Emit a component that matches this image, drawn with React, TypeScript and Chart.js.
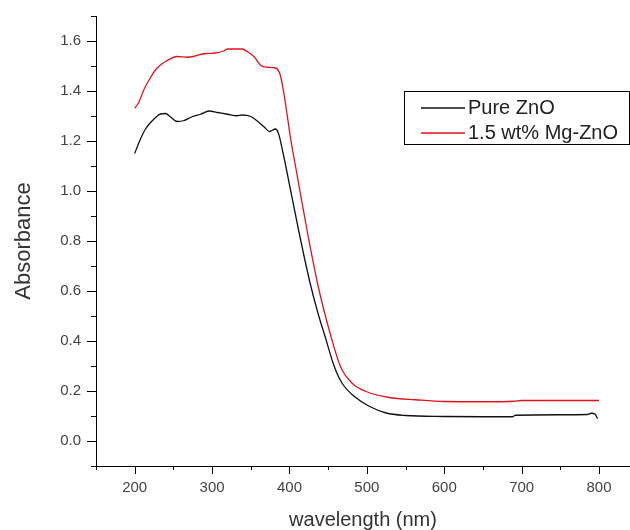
import React, { useEffect, useRef } from 'react';
import { Chart, registerables } from 'chart.js';

Chart.register(...registerables);

// ---- data ----
const pureWavelength = [
  200, 205, 210, 214, 220, 225, 233, 240, 246, 255, 263, 274, 285, 296, 307, 320, 332, 339, 350, 358,
  367, 374, 382, 386, 391, 395, 412, 426, 436, 446, 458, 468, 484, 503, 525, 550, 600, 650, 688, 692,
  750, 785, 790, 795, 798,
];
const pureAbsorbance = [
  1.15, 1.19, 1.225, 1.248, 1.272, 1.288, 1.308, 1.31, 1.297, 1.278, 1.281, 1.297, 1.307, 1.32, 1.314,
  1.307, 1.301, 1.304, 1.298, 1.281, 1.257, 1.238, 1.248, 1.228, 1.162, 1.103, 0.84, 0.64, 0.52, 0.418,
  0.297, 0.231, 0.178, 0.139, 0.112, 0.102, 0.098, 0.097, 0.097, 0.103, 0.105, 0.106, 0.111, 0.107, 0.089,
];

const mgWavelength = [
  200, 205, 212, 220, 229, 240, 255, 268, 276, 289, 302, 315, 320, 339, 345, 354, 363, 371, 382, 388,
  393, 402, 408, 423, 437, 453, 466, 481, 499, 529, 563, 600, 650, 690, 700, 750, 800,
];
const mgAbsorbance = [
  1.331, 1.353, 1.406, 1.452, 1.492, 1.518, 1.538, 1.535, 1.538, 1.549, 1.551, 1.56, 1.568, 1.568, 1.558,
  1.538, 1.502, 1.495, 1.492, 1.465, 1.386, 1.2, 1.096, 0.838, 0.62, 0.425, 0.297, 0.231, 0.198, 0.174,
  0.165, 0.158, 0.157, 0.159, 0.162, 0.162, 0.162,
];

const seriesNames = ['Pure ZnO', '1.5 wt% Mg-ZnO'];
const seriesColors = ['#111111', '#e3121c'];
const xTitle = 'wavelength (nm)';
const yTitle = 'Absorbance';
const xRange = [150, 840];
const yRange = [-0.1, 1.7];
const xTickValues = [150, 200, 250, 300, 350, 400, 450, 500, 550, 600, 650, 700, 750, 800];
const yTickValues = [-0.1, 0, 0.1, 0.2, 0.3, 0.4, 0.5, 0.6, 0.7, 0.8, 0.9, 1.0, 1.1, 1.2, 1.3, 1.4, 1.5, 1.6, 1.7];

const FONT = "'Liberation Sans', Arial, sans-serif";

const originTicks = {
  id: 'originTicks',
  afterDraw(chart: any) {
    const { ctx, chartArea } = chart;
    const xs = chart.scales.x;
    const ys = chart.scales.y;
    ctx.save();
    ctx.strokeStyle = '#000';
    ctx.lineWidth = 1;
    ctx.beginPath();
    xs.ticks.forEach((t: any) => {
      const v = t.value;
      const major = Math.round(v) % 100 === 0;
      const px = Math.round(xs.getPixelForValue(v)) + 0.5;
      const y0 = Math.round(chartArea.bottom);
      ctx.moveTo(px, y0);
      ctx.lineTo(px, y0 + (major ? 8 : 4));
    });
    ys.ticks.forEach((t: any) => {
      const v = t.value;
      const major = Math.round(v * 10) % 2 === 0;
      const py = Math.round(ys.getPixelForValue(v)) + 0.5;
      const x0 = Math.round(chartArea.left);
      ctx.moveTo(x0, py);
      ctx.lineTo(x0 - (major ? 9 : 5), py);
    });
    ctx.stroke();
    ctx.restore();
  },
};

const boxLegend = {
  id: 'boxLegend',
  afterDraw(chart: any) {
    const { ctx } = chart;
    const left = 404.5;
    const top = 91.5;
    const right = chart.width - 0.5;
    const bottom = 144.5;
    ctx.save();
    ctx.strokeStyle = '#000';
    ctx.lineWidth = 1;
    ctx.strokeRect(left, top, right - left, bottom - top);
    const rows = [108, 133];
    seriesNames.forEach((name, i) => {
      ctx.strokeStyle = seriesColors[i];
      ctx.lineWidth = 1.3;
      ctx.beginPath();
      ctx.moveTo(421, rows[i]);
      ctx.lineTo(465, rows[i]);
      ctx.stroke();
      ctx.fillStyle = '#222';
      ctx.font = `20px ${FONT}`;
      ctx.textBaseline = 'middle';
      ctx.textAlign = 'left';
      ctx.fillText(name, 468, rows[i]);
    });
    ctx.restore();
  },
};

export default function App() {
  const canvasRef = useRef<HTMLCanvasElement | null>(null);

  useEffect(() => {
    if (!canvasRef.current) return;
    const chart = new Chart(canvasRef.current, {
      type: 'line',
      data: {
        datasets: [
          {
            label: seriesNames[0],
            data: pureWavelength.map((x, i) => ({ x, y: pureAbsorbance[i] })),
            borderColor: seriesColors[0],
            borderWidth: 1.3,
            pointRadius: 0,
            cubicInterpolationMode: 'monotone',
            fill: false,
          },
          {
            label: seriesNames[1],
            data: mgWavelength.map((x, i) => ({ x, y: mgAbsorbance[i] })),
            borderColor: seriesColors[1],
            borderWidth: 1.3,
            pointRadius: 0,
            cubicInterpolationMode: 'monotone',
            fill: false,
          },
        ],
      },
      options: {
        animation: false,
        responsive: false,
        maintainAspectRatio: false,
        layout: { padding: { top: 13, left: 0, right: 0, bottom: 0 } },
        plugins: { legend: { display: false }, tooltip: { enabled: false } },
        scales: {
          x: {
            type: 'linear',
            min: xRange[0],
            max: xRange[1],
            afterBuildTicks(scale: any) {
              scale.ticks = xTickValues.map((value) => ({ value }));
            },
            afterFit(scale: any) {
              scale.height = 64;
            },
            grid: { drawOnChartArea: false, color: 'transparent', tickLength: 8 },
            border: { display: true, color: '#000', width: 1 },
            ticks: {
              padding: 5,
              maxRotation: 0,
              autoSkip: false,
              color: '#444',
              font: { family: FONT, size: 15 },
              callback: (v: any) => {
                const n = Number(v);
                return Math.round(n) % 100 === 0 && n >= 200 && n <= 800 ? String(Math.round(n)) : '';
              },
            },
            title: {
              display: true,
              text: xTitle,
              color: '#333',
              font: { family: FONT, size: 20, lineHeight: 1 },
              padding: { top: 0, bottom: 0 },
            },
          },
          y: {
            type: 'linear',
            min: yRange[0],
            max: yRange[1],
            afterBuildTicks(scale: any) {
              scale.ticks = yTickValues.map((value) => ({ value }));
            },
            afterFit(scale: any) {
              scale.width = 96;
            },
            grid: { drawOnChartArea: false, color: 'transparent', tickLength: 8 },
            border: { display: true, color: '#000', width: 1 },
            ticks: {
              padding: 7,
              autoSkip: false,
              color: '#444',
              font: { family: FONT, size: 15 },
              callback: (v: any) => {
                const k = Math.round(Number(v) * 10);
                return k % 2 === 0 && k >= 0 ? (k / 10).toFixed(1) : '';
              },
            },
            title: {
              display: true,
              text: yTitle,
              color: '#333',
              font: { family: FONT, size: 22, lineHeight: 1 },
              padding: { top: 13, bottom: 0 },
            },
          },
        },
      },
      plugins: [originTicks, boxLegend],
    });
    return () => chart.destroy();
  }, []);

  return (
    <div style={{ position: 'absolute', left: 0, top: 0, width: 630, height: 530, background: '#fff' }}>
      <canvas ref={canvasRef} width={630} height={530} style={{ display: 'block' }} />
    </div>
  );
}
